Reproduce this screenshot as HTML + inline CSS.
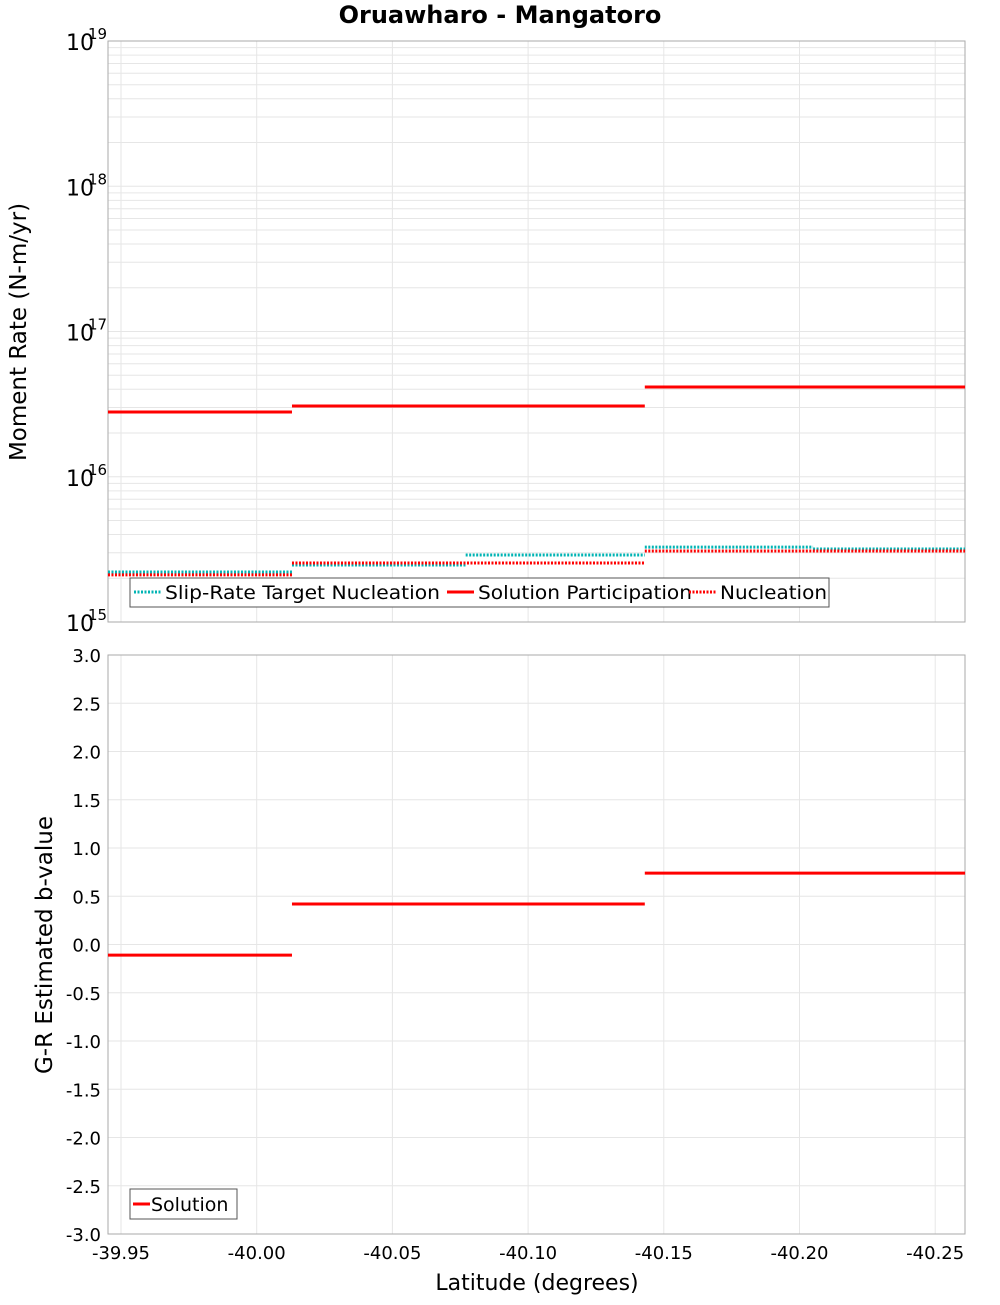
<!DOCTYPE html>
<html><head><meta charset="utf-8"><style>
body{margin:0;background:#fff;font-family:"Liberation Sans","DejaVu Sans",sans-serif}
svg text{font-family:"DejaVu Sans","Liberation Sans",sans-serif}
</style></head><body>
<svg id="c" width="1000" height="1300" xmlns="http://www.w3.org/2000/svg"></svg>
<script>
const xTicks=[-39.95,-40.00,-40.05,-40.10,-40.15,-40.20,-40.25];
const xTickLabels=["-39.95","-40.00","-40.05","-40.10","-40.15","-40.20","-40.25"];
const solBounds=[-39.9452,-40.013,-40.143,-40.261];
const solParticipation=[2.79e16,3.07e16,4.15e16];
const nucleation=[2.11e15,2.55e15,3.08e15];
const targetBounds=[-39.9452,-40.013,-40.077,-40.143,-40.205,-40.261];
const targetNucleation=[2.21e15,2.47e15,2.89e15,3.28e15,3.18e15];
const bValues=[-0.11,0.42,0.74];
const bTicks=[3,2.5,2,1.5,1,0.5,0,-0.5,-1,-1.5,-2,-2.5,-3];
const logDecades=[15,16,17,18,19];

const S=document.getElementById('c');const NS='http://www.w3.org/2000/svg';
function el(t,a,txt){const e=document.createElementNS(NS,t);for(const k in a)e.setAttribute(k,a[k]);if(txt!==undefined)e.textContent=txt;S.appendChild(e);return e;}
const L=108,R=965,T1=41,B1=622,T2=655,B2=1234;
const xs=v=>121+(-39.95-v)/0.05*135.7;
const ys1=v=>B1-(Math.log10(v)-15)*(B1-T1)/4;
const ys2=v=>T2+(3-v)*(B2-T2)/6;

for(let d=15;d<19;d++)for(let m=1;m<10;m++){const y=ys1(m*Math.pow(10,d));const g=el('line',{x1:L,x2:R,y1:y,y2:y,stroke:'#e6e6e6','stroke-width':1});}
bTicks.forEach(v=>{const g=el('line',{x1:L,x2:R,y1:ys2(v),y2:ys2(v),stroke:'#e6e6e6'});});
xTicks.forEach(v=>{[[T1,B1],[T2,B2]].forEach(([a,b])=>{const g=el('line',{x1:xs(v),x2:xs(v),y1:a,y2:b,stroke:'#e6e6e6'});});});

let f=el('rect',{x:L,y:T1,width:R-L,height:B1-T1,fill:'none',stroke:'#aaa'});
f=el('rect',{x:L,y:T2,width:R-L,height:B2-T2,fill:'none',stroke:'#aaa'});

let t=el('text',{x:500,y:23,'text-anchor':'middle','font-size':24,'font-weight':'bold'},'Oruawharo - Mangatoro');

logDecades.forEach(d=>{const y=ys1(Math.pow(10,d));const g=el('text',{x:66,y:y+9,'font-size':22},'10');
const s=el('text',{x:88,y:y-2,'font-size':15},String(d));});
bTicks.forEach(v=>{const g=el('text',{x:101,y:ys2(v)+7,'font-size':18,'text-anchor':'end'},v.toFixed(1));});
xTicks.forEach((v,i)=>{const g=el('text',{x:xs(v),y:1259,'font-size':18,'text-anchor':'middle'},xTickLabels[i]);});

t=el('text',{x:26,y:332,'font-size':23,'text-anchor':'middle',transform:'rotate(-90 26 332)'},'Moment Rate (N-m/yr)');
t=el('text',{x:52,y:945,'font-size':23,'text-anchor':'middle',transform:'rotate(-90 52 945)'},'G-R Estimated b-value');
t=el('text',{x:537,y:1290,'font-size':22,'text-anchor':'middle'},'Latitude (degrees)');

function steps(bounds,vals,ys,color,dash,name){vals.forEach((v,i)=>{const a={x1:xs(bounds[i]),x2:xs(bounds[i+1]),y1:ys(v),y2:ys(v),stroke:color,'stroke-width':3};if(dash)a['stroke-dasharray']='2,1.5';const l=el('line',a);});}
steps(targetBounds,targetNucleation,ys1,'#00b4b4',true,'target-nucleation-segment');
steps(solBounds,nucleation,ys1,'#ff0000',true,'nucleation-segment');
steps(solBounds,solParticipation,ys1,'#ff0000',false,'solution-participation-segment');
steps(solBounds,bValues,ys2,'#ff0000',false,'b-value-segment');

let lg=el('rect',{x:130,y:578,width:699,height:29,fill:'#fff',stroke:'#555'});
const items=[[134,'#00b4b4',true,'Slip-Rate Target Nucleation',275],[447,'#ff0000',false,'Solution Participation',214],[689,'#ff0000',true,'Nucleation',107]];
items.forEach(([x,c,d,n,w])=>{const a={x1:x,x2:x+27,y1:592,y2:592,stroke:c,'stroke-width':3};if(d)a['stroke-dasharray']='2,1.5';const l=el('line',a);
const tx=el('text',{x:x+31,y:599,'font-size':19,textLength:w,lengthAdjust:'spacingAndGlyphs'},n);});
lg=el('rect',{x:130,y:1189,width:107,height:30,fill:'#fff',stroke:'#555'});
let l2=el('line',{x1:133,x2:150,y1:1204,y2:1204,stroke:'#ff0000','stroke-width':3});
t=el('text',{x:151,y:1211,'font-size':19},'Solution');
</script>
</body></html>
